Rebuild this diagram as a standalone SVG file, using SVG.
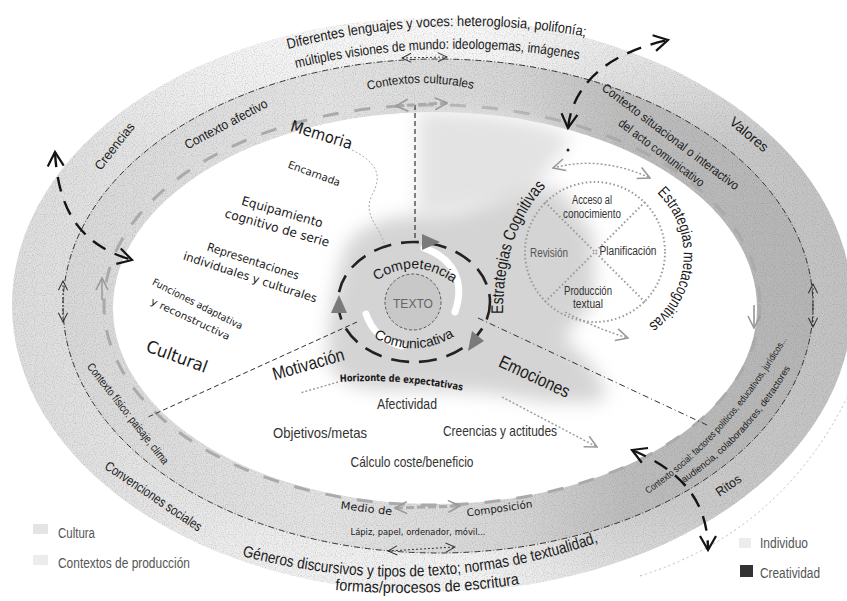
<svg xmlns="http://www.w3.org/2000/svg" width="847" height="601" viewBox="0 0 847 601">
<defs>
<style>
.n{font-family:"Liberation Sans Narrow","Liberation Sans",Arial,sans-serif;fill:#1a1a1a}
.v{font-family:"DejaVu Sans",Verdana,sans-serif;fill:#1a1a1a}
.lg{fill:#555}
.big{fill:none;stroke:#141414;stroke-width:2.4;stroke-dasharray:15 10;marker-start:url(#mb);marker-end:url(#mb)}
.gdot{fill:none;stroke:#9a9a9a;stroke-width:1.4;stroke-dasharray:2 2}
</style>
<linearGradient id="gOuter" x1="0" y1="0" x2="1" y2="0">
<stop offset="0" stop-color="#dedede"/>
<stop offset="0.3" stop-color="#eaeaea"/>
<stop offset="0.55" stop-color="#efefef"/>
<stop offset="0.72" stop-color="#d0d0d0"/>
<stop offset="1" stop-color="#c2c2c2"/>
</linearGradient>
<linearGradient id="gTop" x1="0" y1="0" x2="0" y2="1">
<stop offset="0" stop-color="#fff" stop-opacity="0.7"/>
<stop offset="0.22" stop-color="#fff" stop-opacity="0"/>
<stop offset="0.85" stop-color="#fff" stop-opacity="0"/>
<stop offset="1" stop-color="#fff" stop-opacity="0.4"/>
</linearGradient>
<linearGradient id="gBand" x1="0" y1="0" x2="1" y2="0">
<stop offset="0" stop-color="#d9d9d9"/>
<stop offset="0.35" stop-color="#e4e4e4"/>
<stop offset="0.6" stop-color="#d6d6d6"/>
<stop offset="0.75" stop-color="#bdbdbd"/>
<stop offset="1" stop-color="#b6b6b6"/>
</linearGradient>
<filter id="grain" x="0" y="0" width="1" height="1">
<feTurbulence type="fractalNoise" baseFrequency="0.9" numOctaves="1" seed="3" result="t"/>
<feColorMatrix in="t" type="matrix" values="0 0 0 0 0.2  0 0 0 0 0.2  0 0 0 0 0.2  1.1 0 0 0 -0.5" result="n"/>
<feComposite in="n" in2="SourceAlpha" operator="in" result="nm"/>
<feMerge><feMergeNode in="SourceGraphic"/><feMergeNode in="nm"/></feMerge>
</filter>
<filter id="soft" x="-30%" y="-30%" width="160%" height="160%"><feGaussianBlur stdDeviation="9"/></filter>
<marker id="mb" viewBox="0 0 20 20" refX="17" refY="10" markerWidth="20" markerHeight="20" markerUnits="userSpaceOnUse" orient="auto-start-reverse"><path d="M3,2 L17,10 L3,18" fill="none" stroke="#141414" stroke-width="2.2"/></marker>
<marker id="ms" viewBox="0 0 12 12" refX="11" refY="6" markerWidth="11" markerHeight="11" markerUnits="userSpaceOnUse" orient="auto-start-reverse"><path d="M1,1 L11,6 L1,11" fill="none" stroke="#333" stroke-width="1.1"/></marker>
<marker id="mg" viewBox="0 0 14 14" refX="13" refY="7" markerWidth="14" markerHeight="14" markerUnits="userSpaceOnUse" orient="auto-start-reverse"><path d="M1,1 L13,7 L1,13" fill="none" stroke="#999" stroke-width="1.6"/></marker>
<path id="p1" d="M 288 49 Q 440 10 588 37"/>
<path id="p2" d="M 296 68 Q 440 34 582 60"/>
<path id="p3" d="M 368 90 Q 422 76 476 90"/>
<path id="pComp" d="M 378 280 Q 414 256 452 282"/>
<path id="pCom" d="M 373 337 Q 414 360 455 336"/>
<path id="pCog" d="M 503 314 Q 503 228 550 182"/>
<path id="pMeta" d="M 657 193 A 86 86 0 0 1 648 325"/>
<path id="pHor" d="M 340 382 Q 400 378 463 391"/>
<path id="pGen" d="M 242 556 Q 425 604 604 540"/>
<path id="pFor" d="M 335 590 Q 428 598 520 584"/>
<path id="pSoc1" d="M 648 494 Q 730 438 790 334"/>
<path id="pSoc2" d="M 684 483 Q 753 437 796 358"/>
</defs>
<rect width="847" height="601" fill="#fff"/>

<g id="bands">
<g filter="url(#grain)">
<ellipse cx="432" cy="305" rx="420" ry="287" fill="url(#gOuter)"/>
<ellipse cx="432" cy="305" rx="420" ry="287" fill="url(#gTop)"/>
<ellipse cx="438" cy="306" rx="375" ry="247" fill="url(#gBand)"/>
</g>
<ellipse cx="438" cy="306" rx="375" ry="247" fill="none" stroke="#333" stroke-width="1" stroke-dasharray="6 2 1 2"/>
<ellipse cx="435" cy="308" rx="322" ry="196" fill="#fff"/>
<ellipse cx="432" cy="305" rx="328" ry="200" fill="none" stroke="#aaa" stroke-width="3" stroke-dasharray="16 16"/>
<path d="M 418 112 C 470 110 540 118 572 138 C 555 160 540 180 530 200 L 418 215 Z" fill="#e3e3e3" filter="url(#soft)"/>
<path d="M 345 250 C 355 225 390 215 430 215 C 480 215 520 180 560 190 L 594 235 L 594 300 C 582 320 565 330 565 340 C 590 360 605 380 605 400 C 570 405 530 400 500 394 C 460 390 420 390 380 390 C 350 388 328 376 328 355 C 328 320 335 280 345 250 Z" fill="#d4d4d4" filter="url(#soft)"/>
<path d="M 640 576 Q 780 532 847 398" fill="none" stroke="#bbb" stroke-width="1" stroke-dasharray="2 3"/>
<path d="M 352 150 C 372 160 385 172 372 195 C 362 215 380 226 385 246" fill="none" stroke="#aaa" stroke-width="1" stroke-dasharray="2 2"/>
</g>

<g id="connectors">
<path class="big" d="M 568 128 C 572 90 600 55 668 40"/>
<path class="big" d="M 55 152 C 58 210 80 245 132 260"/>
<path class="big" d="M 632 450 C 680 470 708 500 708 550"/>
<circle cx="568" cy="150" r="1.5" fill="#222"/>
<line x1="415" y1="105" x2="415" y2="242" stroke="#333" stroke-width="1.2" stroke-dasharray="5 3"/>
<line x1="357" y1="322" x2="148" y2="417" stroke="#333" stroke-width="1" stroke-dasharray="5 3"/>
<line x1="478" y1="318" x2="707" y2="425" stroke="#333" stroke-width="1" stroke-dasharray="6 3 1 3"/>
<path d="M 402 58 L 447 57" fill="none" stroke="#333" stroke-width="1" stroke-dasharray="2 2" marker-start="url(#ms)" marker-end="url(#ms)"/>
<path d="M 388 551 L 455 547" fill="none" stroke="#333" stroke-width="1" stroke-dasharray="2 2" marker-start="url(#ms)" marker-end="url(#ms)"/>
<path d="M 63 281 L 63 322" fill="none" stroke="#333" stroke-width="1" stroke-dasharray="2 2" marker-start="url(#ms)" marker-end="url(#ms)"/>
<path d="M 813 284 L 813 327" fill="none" stroke="#333" stroke-width="1" stroke-dasharray="2 2" marker-start="url(#ms)" marker-end="url(#ms)"/>
<path d="M 396 106 L 447 103" fill="none" stroke="#aaa" stroke-width="3" stroke-dasharray="8 3" marker-start="url(#mg)" marker-end="url(#mg)"/>
<path d="M 395 508 L 460 506" fill="none" stroke="#aaa" stroke-width="3" stroke-dasharray="8 3" marker-start="url(#mg)" marker-end="url(#mg)"/>
<path d="M 102 300 L 102 278" fill="none" stroke="#aaa" stroke-width="2" marker-end="url(#mg)"/>
<path d="M 754 305 L 754 328" fill="none" stroke="#aaa" stroke-width="2" marker-end="url(#mg)"/>
<path class="gdot" d="M 553 168 Q 600 155 650 178" marker-start="url(#mg)" marker-end="url(#mg)"/>
<path class="gdot" d="M 565 312 Q 600 330 628 338" marker-end="url(#mg)"/>
<path class="gdot" d="M 502 397 L 597 447" marker-end="url(#mg)"/>
<path class="gdot" d="M 338 382 L 300 393"/>
</g>

<g id="texto">
<ellipse cx="414" cy="302" rx="76" ry="60" fill="none" stroke="#222" stroke-width="2.6" stroke-dasharray="18 10"/>
<path d="M 424 248 C 452 258 466 280 455 312" fill="none" stroke="#fff" stroke-width="7" stroke-linecap="round"/>
<path d="M 366 314 C 372 332 386 342 402 346" fill="none" stroke="#fff" stroke-width="7" stroke-linecap="round"/>
<circle cx="413" cy="302" r="28" fill="#c8c8c8" stroke="#555" stroke-width="1" stroke-dasharray="3 2"/>
<polygon points="422,234 440,242 422,250" fill="#7a7a7a"/>
<polygon points="331,313 339,295 347,313" fill="#7a7a7a"/>
<polygon points="468,351 484,341 472,331" fill="#7a7a7a"/>
<text class="n" x="413" y="308" font-size="13" text-anchor="middle" textLength="40" lengthAdjust="spacingAndGlyphs" style="fill:#666">TEXTO</text>
<text class="n" font-size="14"><textPath href="#pComp" startOffset="50%" text-anchor="middle">Competencia</textPath></text>
<text class="n" font-size="14"><textPath href="#pCom" startOffset="50%" text-anchor="middle">Comunicativa</textPath></text>
</g>

<g id="cultura-top">
<text class="n" font-size="14.5" textLength="300" lengthAdjust="spacingAndGlyphs"><textPath href="#p1">Diferentes lenguajes y voces: heteroglosia, polifonía;</textPath></text>
<text class="n" font-size="14" textLength="285" lengthAdjust="spacingAndGlyphs"><textPath href="#p2">múltiples visiones de mundo: ideologemas, imágenes</textPath></text>
<text class="n" font-size="12.5" textLength="106" lengthAdjust="spacingAndGlyphs"><textPath href="#p3">Contextos culturales</textPath></text>
</g>

<g id="cultura-side">
<text class="n" font-size="13" text-anchor="middle" textLength="56" lengthAdjust="spacingAndGlyphs" transform="translate(118,149) rotate(-52)">Creencias</text>
<text class="n" font-size="13" text-anchor="middle" textLength="92" lengthAdjust="spacingAndGlyphs" transform="translate(228,128) rotate(-28)">Contexto afectivo</text>
<text class="n" font-size="14" text-anchor="middle" textLength="46" lengthAdjust="spacingAndGlyphs" transform="translate(746,138) rotate(40)">Valores</text>
<text class="n" font-size="12.5" text-anchor="middle" textLength="168" lengthAdjust="spacingAndGlyphs" transform="translate(668,140) rotate(37)">Contexto situacional o interactivo</text>
<text class="n" font-size="12.5" text-anchor="middle" textLength="104" lengthAdjust="spacingAndGlyphs" transform="translate(659,156) rotate(37)">del acto comunicativo</text>
<text class="n" font-size="11.5" text-anchor="middle" textLength="125" lengthAdjust="spacingAndGlyphs" transform="translate(125,416) rotate(52)">Contexto físico: paisaje, clima</text>
<text class="n" font-size="13.5" text-anchor="middle" textLength="114" lengthAdjust="spacingAndGlyphs" transform="translate(151,500) rotate(34)">Convenciones sociales</text>
<text class="n" font-size="9.5" textLength="210" lengthAdjust="spacingAndGlyphs"><textPath href="#pSoc1">Contexto social: factores políticos, educativos, jurídicos...</textPath></text>
<text class="n" font-size="9.5" textLength="158" lengthAdjust="spacingAndGlyphs"><textPath href="#pSoc2">audiencia, colaboradores, detractores</textPath></text>
<text class="n" font-size="13" text-anchor="middle" textLength="28" lengthAdjust="spacingAndGlyphs" transform="translate(731,489) rotate(-35)">Ritos</text>
</g>

<g id="cultura-bottom">
<text class="v" font-size="10.5" text-anchor="middle" textLength="52" lengthAdjust="spacingAndGlyphs" transform="translate(366,512) rotate(7)">Medio de</text>
<text class="v" font-size="10.5" text-anchor="middle" textLength="66" lengthAdjust="spacingAndGlyphs" transform="translate(500,512) rotate(-8)">Composición</text>
<text class="v" x="418" y="535" font-size="8.5" text-anchor="middle" textLength="135" lengthAdjust="spacingAndGlyphs">Lápiz, papel, ordenador, móvil...</text>
<text class="n" font-size="16" textLength="362" lengthAdjust="spacingAndGlyphs"><textPath href="#pGen">Géneros discursivos y tipos de texto; normas de textualidad,</textPath></text>
<text class="n" font-size="16" textLength="185" lengthAdjust="spacingAndGlyphs"><textPath href="#pFor">formas/procesos de escritura</textPath></text>
</g>

<g id="memoria">
<text class="v" font-size="16" text-anchor="middle" textLength="64" lengthAdjust="spacingAndGlyphs" transform="translate(320,140) rotate(17)">Memoria</text>
<text class="v" font-size="10.5" text-anchor="middle" textLength="55" lengthAdjust="spacingAndGlyphs" transform="translate(313,177) rotate(20)">Encarnada</text>
<text class="v" font-size="12.5" text-anchor="middle" textLength="84" lengthAdjust="spacingAndGlyphs" transform="translate(281,216) rotate(16)">Equipamiento</text>
<text class="v" font-size="12.5" text-anchor="middle" textLength="108" lengthAdjust="spacingAndGlyphs" transform="translate(276,232) rotate(16)">cognitivo de serie</text>
<text class="v" font-size="11.5" text-anchor="middle" textLength="96" lengthAdjust="spacingAndGlyphs" transform="translate(252,265) rotate(18)">Representaciones</text>
<text class="v" font-size="11.5" text-anchor="middle" textLength="140" lengthAdjust="spacingAndGlyphs" transform="translate(249,281) rotate(18)">individuales y culturales</text>
<text class="v" font-size="10" text-anchor="middle" textLength="100" lengthAdjust="spacingAndGlyphs" transform="translate(196,307) rotate(27)">Funciones adaptativa</text>
<text class="v" font-size="10" text-anchor="middle" textLength="86" lengthAdjust="spacingAndGlyphs" transform="translate(189,322) rotate(25)">y reconstructiva</text>
<text class="v" font-size="17" text-anchor="middle" textLength="64" lengthAdjust="spacingAndGlyphs" transform="translate(175,362) rotate(20)">Cultural</text>
</g>

<g id="motivacion">
<text class="n" font-size="18" text-anchor="middle" textLength="74" lengthAdjust="spacingAndGlyphs" transform="translate(310,370) rotate(-16)">Motivación</text>
<text class="n" font-size="18" text-anchor="middle" textLength="76" lengthAdjust="spacingAndGlyphs" transform="translate(532,382) rotate(25)">Emociones</text>
<text class="v" font-size="10" font-weight="bold" textLength="123" lengthAdjust="spacingAndGlyphs"><textPath href="#pHor">Horizonte de expectativas</textPath></text>
<text class="n" x="407" y="409" font-size="14" text-anchor="middle" textLength="60" lengthAdjust="spacingAndGlyphs" style="fill:#333">Afectividad</text>
<text class="n" x="320" y="438" font-size="15" text-anchor="middle" textLength="94" lengthAdjust="spacingAndGlyphs" style="fill:#333">Objetivos/metas</text>
<text class="n" x="500" y="436" font-size="15" text-anchor="middle" textLength="114" lengthAdjust="spacingAndGlyphs" style="fill:#333">Creencias y actitudes</text>
<text class="n" x="412" y="467" font-size="15" text-anchor="middle" textLength="123" lengthAdjust="spacingAndGlyphs" style="fill:#333">Cálculo coste/beneficio</text>
</g>

<g id="estrategias">
<circle cx="595" cy="252" r="70" fill="none" stroke="#999" stroke-width="2" stroke-dasharray="1.5 2.5"/>
<path d="M 545 202 L 645 302 M 645 202 L 595 252 M 545 302 L 595 252" fill="none" stroke="#999" stroke-width="2" stroke-dasharray="1.5 2.5"/>
<text class="n" font-size="17" textLength="138" lengthAdjust="spacingAndGlyphs"><textPath href="#pCog">Estrategias Cognitivas</textPath></text>
<text class="n" font-size="16" textLength="150" lengthAdjust="spacingAndGlyphs"><textPath href="#pMeta">Estrategias metacognitivas</textPath></text>
<text class="n" x="592" y="204" font-size="12" text-anchor="middle" textLength="40" lengthAdjust="spacingAndGlyphs" style="fill:#333">Acceso al</text>
<text class="n" x="592" y="218" font-size="12" text-anchor="middle" textLength="58" lengthAdjust="spacingAndGlyphs" style="fill:#333">conocimiento</text>
<text class="n" x="549" y="257" font-size="12" text-anchor="middle" textLength="38" lengthAdjust="spacingAndGlyphs" style="fill:#555">Revisión</text>
<text class="n" x="628" y="255" font-size="12" text-anchor="middle" textLength="57" lengthAdjust="spacingAndGlyphs" style="fill:#333">Planificación</text>
<text class="n" x="588" y="295" font-size="12" text-anchor="middle" textLength="48" lengthAdjust="spacingAndGlyphs" style="fill:#333">Producción</text>
<text class="n" x="588" y="308" font-size="12" text-anchor="middle" textLength="30" lengthAdjust="spacingAndGlyphs" style="fill:#333">textual</text>
</g>

<g id="leyenda">
<rect x="33" y="524" width="15" height="10" fill="#e4e4e4"/>
<rect x="33" y="555" width="15" height="10" fill="#ececec"/>
<rect x="739" y="538" width="12" height="10" fill="#ececec"/>
<rect x="740" y="565" width="13" height="12" fill="#333"/>
<text class="n lg" x="58" y="538" font-size="14" textLength="37" lengthAdjust="spacingAndGlyphs">Cultura</text>
<text class="n lg" x="58" y="568" font-size="14" textLength="132" lengthAdjust="spacingAndGlyphs">Contextos de producción</text>
<text class="n lg" x="760" y="548" font-size="14" textLength="48" lengthAdjust="spacingAndGlyphs">Individuo</text>
<text class="n lg" x="760" y="578" font-size="14" textLength="60" lengthAdjust="spacingAndGlyphs">Creatividad</text>
</g>
</svg>
